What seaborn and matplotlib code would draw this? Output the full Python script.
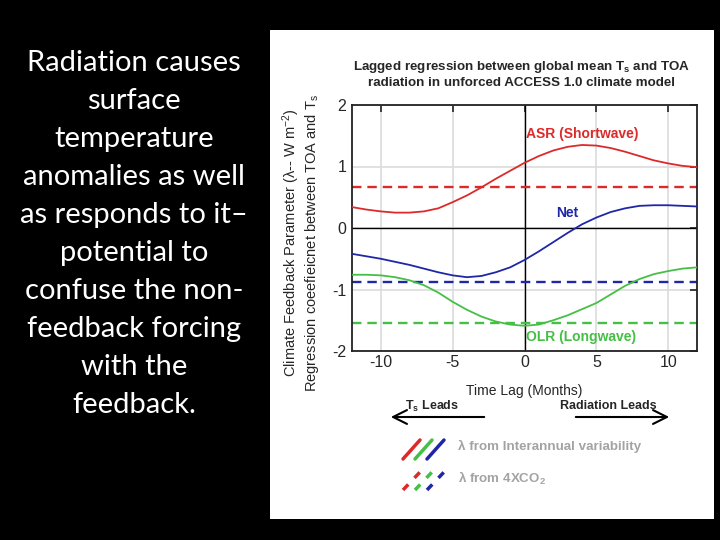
import pandas as pd
import seaborn as sns
import matplotlib.pyplot as plt
from matplotlib.patches import Rectangle
from matplotlib.lines import Line2D

# lagged regression values (W m-2 K-1)
lags = list(range(-12, 13))
asr = [0.34, 0.30, 0.27, 0.25, 0.25, 0.27, 0.32, 0.42, 0.53, 0.66, 0.80, 0.93, 1.06,
       1.17, 1.26, 1.32, 1.35, 1.34, 1.30, 1.24, 1.17, 1.10, 1.05, 1.01, 0.99]
net = [-0.42, -0.46, -0.50, -0.55, -0.60, -0.66, -0.72, -0.77, -0.80, -0.78, -0.72, -0.64, -0.52,
       -0.38, -0.23, -0.08, 0.06, 0.17, 0.26, 0.32, 0.36, 0.37, 0.37, 0.36, 0.35]
olr = [-0.76, -0.76, -0.77, -0.80, -0.85, -0.93, -1.05, -1.20, -1.33, -1.44, -1.52, -1.57, -1.59,
       -1.57, -1.50, -1.42, -1.32, -1.22, -1.08, -0.94, -0.83, -0.75, -0.70, -0.66, -0.64]

# lambda from 4xCO2 runs (dashed)
co2_vals = [0.66, -0.88, -1.55]

series = ['ASR (Shortwave)', 'Net', 'OLR (Longwave)']
colours = ['#dc2a2a', '#1f27a6', '#45bf45']

slide_text = ('Radiation causes\nsurface\ntemperature\nanomalies as well\nas responds to it\u2013\n'
              'potential to\nconfuse the non-\nfeedback forcing\nwith the\nfeedback.')

df = pd.DataFrame({'lag': lags * 3,
                   'value': asr + net + olr,
                   'series': [series[0]] * len(lags) + [series[1]] * len(lags) + [series[2]] * len(lags)})

sns.set_style('white')
plt.rcParams['font.family'] = ['Liberation Sans', 'DejaVu Sans']
plt.rcParams['mathtext.fontset'] = 'custom'
plt.rcParams['mathtext.rm'] = 'Liberation Sans'
plt.rcParams['mathtext.bf'] = 'Liberation Sans:bold'
plt.rcParams['mathtext.it'] = 'Liberation Sans:italic'
plt.rcParams['axes.unicode_minus'] = False

fig = plt.figure(figsize=(7.2, 5.4), dpi=100, facecolor='black')
fig.patches.append(Rectangle((270/720, 1-519/540), 444/720, 489/540, transform=fig.transFigure,
                             facecolor='white', edgecolor='none', zorder=-1))

fig.text(134/720, 1-234/540, slide_text, ha='center', va='center', color='white',
         fontsize=21, family=['Lato', 'DejaVu Sans'], linespacing=1.57)

ax = fig.add_axes([352/720, 1-351/540, 345/720, 246/540])
ax.set_facecolor('white')

ax.grid(True, color='#dcdcdc', lw=1.2, zorder=0)
ax.axhline(0, color='black', lw=1, zorder=1)
ax.axvline(0, color='black', lw=1, zorder=1)

sns.lineplot(data=df, x='lag', y='value', hue='series', palette=colours, hue_order=series,
             legend=False, lw=1.3, ax=ax, zorder=3)
for v, c in zip(co2_vals, colours):
    ax.axhline(v, color=c, lw=1.7, ls=(0, (4, 2.5)), zorder=2)

ax.set_xlim(-12, 12)
ax.set_ylim(-2, 2)
ax.set_xticks([-10, -5, 0, 5, 10])
ax.set_yticks([-2, -1, 0, 1, 2])
ax.tick_params(direction='in', top=True, right=True, length=5, width=1.2, labelsize=11.5,
               color='#222222')
ax.tick_params(axis='x', pad=3)
ax.tick_params(axis='y', pad=4)
for s in ax.spines.values():
    s.set_color('#222222'); s.set_linewidth(1.3)

ax.set_xlabel('Time Lag (Months)', fontsize=10)
ax.xaxis.set_label_coords(0.5, -0.135)
ax.set_ylabel('Climate Feedback Parameter (\u03bb-- W $\\mathrm{m^{-2}}$)\n'
              'Regression coeefieicnet between TOA and $\\mathrm{T_s}$', fontsize=10.5, linespacing=1.1)
ax.yaxis.set_label_coords(-0.09, 0.44)

ax.text(0.1, 1.53, series[0], color=colours[0], fontsize=10, fontweight='bold', va='center')
ax.text(3.0, 0.24, series[1], color=colours[1], fontsize=10, fontweight='bold', va='center', ha='center')
ax.text(0.1, -1.77, series[2], color=colours[2], fontsize=10, fontweight='bold', va='center')

fig.text(522/720, 1-74/540, 'Lagged regression between global mean T$_\\mathbf{s}$ and TOA\n'
         'radiation in unforced ACCESS 1.0 climate model', ha='center', va='center',
         fontsize=9.6, fontweight='bold', linespacing=1.2)

# lead/lag arrows
arrow = dict(arrowstyle='->,head_length=1.0,head_width=0.5', lw=1.5, color='black')
ax.annotate('', xy=(388/720, 1-417/540), xytext=(487/720, 1-417/540),
            xycoords='figure fraction', textcoords='figure fraction', arrowprops=arrow)
ax.annotate('', xy=(672/720, 1-417/540), xytext=(573/720, 1-417/540),
            xycoords='figure fraction', textcoords='figure fraction', arrowprops=arrow)
fig.text(405/720, 1-406/540, 'T$_\\mathbf{s}$ Leads', fontsize=9, fontweight='bold', va='center')
fig.text(608/720, 1-406/540, 'Radiation Leads', fontsize=9, fontweight='bold', va='center', ha='center')

# hand-drawn style legend: red, green, blue
for i, c in enumerate([colours[0], colours[2], colours[1]]):
    x0 = 403 + i * 12
    fig.add_artist(Line2D([x0/720, (x0+17)/720], [1-459/540, 1-440/540], color=c, lw=2.5,
                          transform=fig.transFigure))
    fig.add_artist(Line2D([x0/720, (x0+18)/720], [1-490/540, 1-471/540], color=c, lw=2.5,
                          ls=(0, (2.2, 2.6)), transform=fig.transFigure))
fig.text(458/720, 1-446/540, '\u03bb from Interannual variability', fontsize=9.6, fontweight='bold',
         color='#a3a3a3', va='center')
fig.text(458/720, 1-478/540, '\u03bb from 4XCO$_\\mathbf{2}$', fontsize=9.6, fontweight='bold',
         color='#a3a3a3', va='center')

plt.savefig('out.png', dpi=100, facecolor='black')
